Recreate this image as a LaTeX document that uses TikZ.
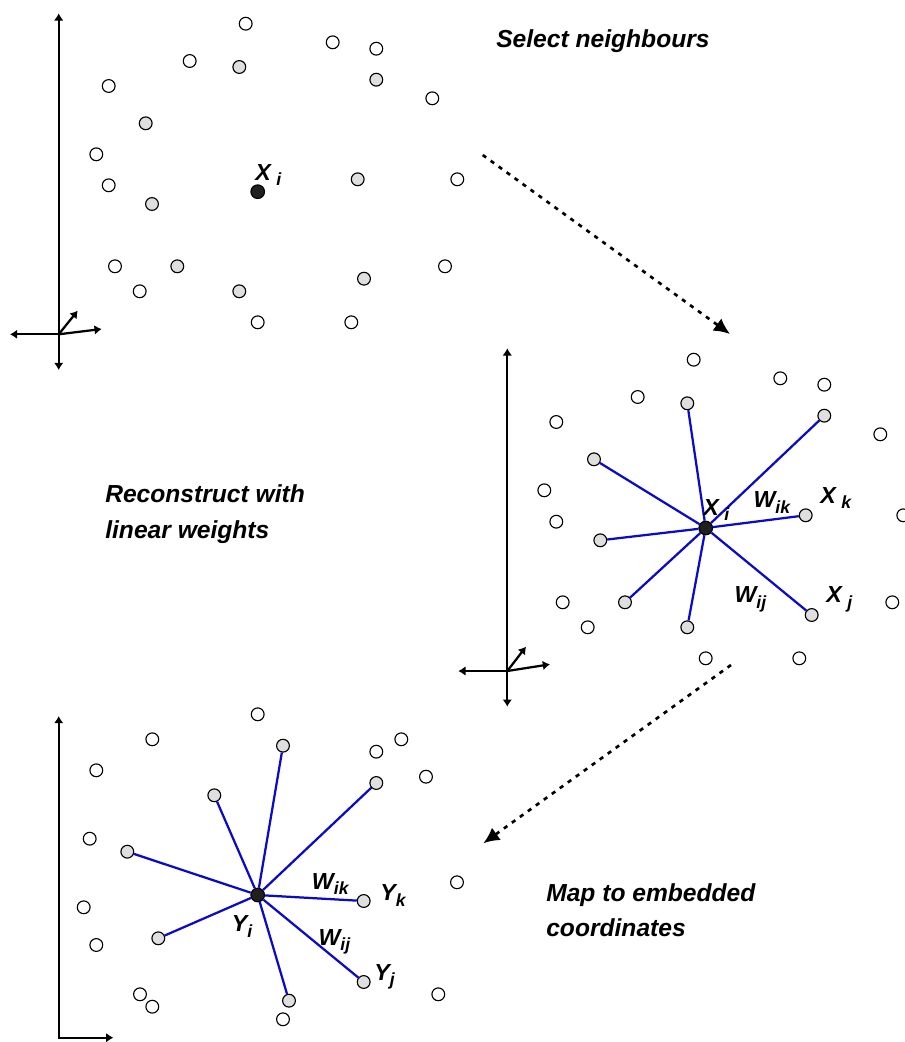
\documentclass[tikz,border=0pt]{standalone}
\usepackage{fontspec}
\setmainfont{Liberation Sans}
\usetikzlibrary{arrows.meta}
\definecolor{wblue}{RGB}{10,10,200}
\newcommand{\lowsub}[1]{\raisebox{-4pt}{\fontsize{12.5}{12.5}\selectfont #1}}

\begin{document}
\begin{tikzpicture}[x=0.025cm,y=-0.025cm,
  >={Latex[length=0.18cm,width=0.24cm]},
  pt/.style={circle,draw,line width=0.8pt,inner sep=0pt,minimum size=0.32cm,fill=white},
  nb/.style={pt,fill=gray!25},
  ctr/.style={pt,fill=black!88,minimum size=0.34cm},
  axis/.style={line width=1.6pt},
  wt/.style={wblue,line width=1.6pt},
  flow/.style={line width=1.9pt,dash pattern=on 3pt off 4pt,-{Latex[length=0.4cm,width=0.38cm]}},
  lab/.style={font=\fontsize{16.5}{18}\selectfont\bfseries\itshape,inner sep=0pt,anchor=base west},
  stagetext/.style={font=\fontsize{17.5}{25}\selectfont\bfseries\itshape,align=left,inner sep=0pt,anchor=base west}]

\useasboundingbox (0,0) rectangle (904,1042);

\coordinate(o1) at (58.7,334.3);
\coordinate(o2) at (507.3,671);
\coordinate(o3) at (58.7,1037.7);

\draw[axis,<->] (o1) ++ (0,-321) to ++ (0,356.7);
\draw[axis,->] (o1) to ++ (-48.7,0);
\draw[axis,->] (o1) to ++ (43,-5.3);
\draw[axis,->] (o1) to ++ (19,-23.6);

\node[pt] (t1) at (245.7,23.7) {};
\node[pt] (t2) at (332.7,42.3) {};
\node[pt] (t3) at (376.3,48.7) {};
\node[pt] (t4) at (189.7,61) {};
\node[nb] (t5) at (239.3,67) {};
\node[nb] (t6) at (376.3,79.7) {};
\node[pt] (t7) at (108.7,86) {};
\node[pt] (t8) at (432.3,98.3) {};
\node[nb] (t9) at (145.7,123.3) {};
\node[pt] (t10) at (96.3,154.3) {};
\node[pt] (t11) at (108.7,185.3) {};
\node[nb] (t12) at (357.7,179.3) {};
\node[pt] (t13) at (457.3,179.3) {};
\node[nb] (t14) at (152,204) {};
\node[ctr] (xi) at (257.7,191.7) {};
\node[pt] (t15) at (115,266.3) {};
\node[nb] (t16) at (177.3,266.3) {};
\node[pt] (t17) at (445,266.3) {};
\node[pt] (t18) at (139.7,291.3) {};
\node[nb] (t19) at (239.3,291.3) {};
\node[nb] (t20) at (364,278.7) {};
\node[pt] (t21) at (257.7,322.3) {};
\node[pt] (t22) at (351.3,322.3) {};

\node[lab] (xilab) at (255,180) {X\hspace{4pt}\lowsub{i}};

\node[stagetext] (select) at (496,47) {Select neighbours};

\coordinate(s1) at (482.7,155);
\coordinate(e1) at (730,334);
\draw[flow] (s1) to (e1);

\draw[axis,<->] (o2) ++ (0,-322.7) to ++ (0,358.4);
\draw[axis,->] (o2) to ++ (-49,0);
\draw[axis,->] (o2) to ++ (42.7,-6.7);
\draw[axis,->] (o2) to ++ (18.7,-24.3);

\node[pt] (m1) at (693.7,359.7) {};
\node[pt] (m2) at (780.3,378.3) {};
\node[pt] (m3) at (824.3,384.7) {};
\node[pt] (m4) at (637.7,397) {};
\node[nb] (m5) at (687.3,403.3) {};
\node[nb] (m6) at (824.3,415.7) {};
\node[pt] (m7) at (880.3,434.3) {};
\node[pt] (m8) at (556.3,422) {};
\node[nb] (m9) at (594,459.3) {};
\node[pt] (m10) at (544.3,490.3) {};
\node[pt] (m11) at (556.3,521.7) {};
\node[nb] (xk) at (805.7,515.3) {};
\node[pt] (m12) at (903.3,515.3) {};
\node[ctr] (xi2) at (705.7,528) {};
\node[nb] (m13) at (600.3,540.3) {};
\node[pt] (m14) at (562.7,602.3) {};
\node[nb] (m15) at (625,602.3) {};
\node[nb] (xj) at (811.7,615) {};
\node[pt] (m16) at (892.3,602.3) {};
\node[pt] (m17) at (587.7,627.3) {};
\node[nb] (m18) at (687.3,627.3) {};
\node[pt] (m19) at (705.7,658.3) {};
\node[pt] (m20) at (799.3,658.3) {};

\draw[wt]
  (xi2) to (m5)
  (xi2) to (m6)
  (xi2) to (m9)
  (xi2) to (xk)
  (xi2) to (m13)
  (xi2) to (m15)
  (xi2) to (m18)
  (xi2) to (xj);

\node[lab] (xilab2) at (703,515) {X\hspace{4pt}\lowsub{i}};
\node[lab] (wiklab) at (753.3,507.7) {W\lowsub{ik}};
\node[lab] (xklab) at (820,503.3) {X\hspace{4pt}\lowsub{k}};
\node[lab] (wijlab) at (734.3,602.7) {W\lowsub{ij}};
\node[lab] (xjlab) at (826,602.7) {X\hspace{4pt}\lowsub{j}};

\node[stagetext] (recon) at (105,538) {Reconstruct with\\linear weights};

\coordinate(s2) at (731,665);
\coordinate(e2) at (483.3,843.3);
\draw[flow] (s2) to (e2);

\draw[axis,<->] (o3) ++ (0,-321.7) -- (o3) -- ++ (54.6,0);

\node[pt] (c1) at (257.7,714.3) {};
\node[pt] (c2) at (152.3,739.3) {};
\node[nb] (c3) at (283,745.7) {};
\node[pt] (c4) at (376.3,751.7) {};
\node[pt] (c5) at (401.3,739.3) {};
\node[pt] (c6) at (96.3,770.3) {};
\node[pt] (c7) at (426,776.7) {};
\node[nb] (c8) at (376.3,783) {};
\node[nb] (c9) at (214.3,795.3) {};
\node[pt] (c10) at (89.7,838.7) {};
\node[nb] (c11) at (127.3,851.7) {};
\node[pt] (c12) at (457,882.3) {};
\node[ctr] (yi) at (257.7,895) {};
\node[nb] (yk) at (363.7,901) {};
\node[pt] (c13) at (83.7,907.3) {};
\node[nb] (c14) at (158.3,938.3) {};
\node[pt] (c15) at (96.3,945) {};
\node[nb] (yj) at (363.7,982) {};
\node[pt] (c16) at (438.3,994.3) {};
\node[pt] (c17) at (140,994.3) {};
\node[pt] (c18) at (152.3,1006.7) {};
\node[nb] (c19) at (289,1000.7) {};
\node[pt] (c20) at (283,1019.3) {};

\draw[wt]
  (yi) to (c3)
  (yi) to (c8)
  (yi) to (c9)
  (yi) to (c11)
  (yi) to (yk)
  (yi) to (c14)
  (yi) to (yj)
  (yi) to (c19);

\node[lab] (wiklab2) at (311.7,889) {W\lowsub{ik}};
\node[lab] (yklab) at (380,900.7) {Y\lowsub{k}};
\node[lab] (yilab) at (231.7,931.7) {Y\lowsub{i}};
\node[lab] (wijlab2) at (318.3,945) {W\lowsub{ij}};
\node[lab] (yjlab) at (374,980) {Y\lowsub{j}};

\node[stagetext] (map) at (546,936.5) {Map to embedded\\coordinates};

\end{tikzpicture}
\end{document}
